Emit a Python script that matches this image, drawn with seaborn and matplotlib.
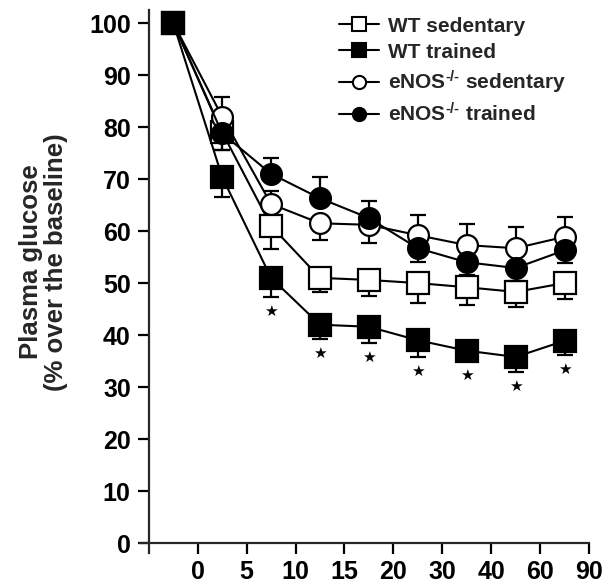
import numpy as np
import pandas as pd
import matplotlib
matplotlib.use("Agg")
import matplotlib.pyplot as plt
from matplotlib.lines import Line2D
import seaborn as sns

sns.set_theme(style="ticks")
plt.rcParams["font.family"] = ["Liberation Sans", "DejaVu Sans"]
plt.rcParams["font.weight"] = "bold"
plt.rcParams["mathtext.fontset"] = "custom"
plt.rcParams["mathtext.rm"] = "Liberation Sans:bold"
plt.rcParams["mathtext.default"] = "rm"

# Time axis labels (minutes) – sampling intervals sit between these boundaries
tick_labels = ["0", "5", "10", "15", "20", "30", "40", "60", "90"]
n_points = 9

ko = r"eNOS$^{\text{-/-}}$"
series_names = ["WT sedentary", ko + " sedentary", ko + " trained", "WT trained"]

wt_sed_mean = [100, 79.0, 61.0, 51.0, 50.6, 50.0, 49.2, 48.3, 50.0]
wt_sed_sem = [0, 3.4, 4.5, 2.7, 3.1, 3.8, 3.4, 2.9, 3.1]
wt_sed_side = ["down"] * 9

enos_sed_mean = [100, 82.0, 65.2, 61.5, 61.2, 59.2, 57.3, 56.7, 58.9]
enos_sed_sem = [0, 3.8, 2.5, 3.2, 3.5, 3.8, 4.0, 4.0, 3.8]
enos_sed_side = ["up", "up", "up", "down", "down", "up", "up", "up", "up"]

enos_tr_mean = [100, 78.8, 71.0, 66.3, 62.5, 56.7, 54.0, 52.9, 56.3]
enos_tr_sem = [0, 3.2, 3.0, 4.1, 3.3, 2.7, 2.5, 2.5, 2.5]
enos_tr_side = ["down", "down", "up", "up", "up", "down", "down", "down", "down"]

wt_tr_mean = [100, 70.4, 51.0, 42.0, 41.6, 39.0, 37.0, 35.8, 38.9]
wt_tr_sem = [0, 3.9, 3.7, 2.8, 3.2, 3.2, 2.0, 2.9, 2.7]
wt_tr_side = ["down"] * 9

# significance vs. WT sedentary for the trained WT group
wt_tr_significant = [False, False, True, True, True, True, True, True, True]

series = [
    (series_names[0], wt_sed_mean, wt_sed_sem, wt_sed_side, "s", "white", 15.5),
    (series_names[1], enos_sed_mean, enos_sed_sem, enos_sed_side, "o", "white", 15),
    (series_names[2], enos_tr_mean, enos_tr_sem, enos_tr_side, "o", "black", 15),
    (series_names[3], wt_tr_mean, wt_tr_sem, wt_tr_side, "s", "black", 15.5),
]

fig = plt.figure(figsize=(6.06, 5.86), dpi=100)
ax = fig.add_axes([0.231, 0.0563, 0.741, 0.9266])

pos = np.arange(n_points)
for k, (name, mean, sem, side, mk, fc, ms) in enumerate(series):
    mean = np.asarray(mean, float)
    sem = np.asarray(sem, float)
    up = np.array([s if d == "up" else 0 for s, d in zip(sem, side)])
    dn = np.array([s if d == "down" else 0 for s, d in zip(sem, side)])
    ax.errorbar(pos, mean, yerr=[dn, up], fmt="none", ecolor="black",
                elinewidth=1.6, capsize=5.5, capthick=1.6, zorder=2 + 2 * k)
    df = pd.DataFrame({"pos": pos, "value": mean})
    sns.lineplot(data=df, x="pos", y="value", ax=ax, color="black",
                 linewidth=1.5, marker=mk, markersize=ms,
                 markerfacecolor=fc, markeredgecolor="black",
                 markeredgewidth=1.6, zorder=3 + 2 * k)

# significance stars under the WT trained error bars
for p, m, s, sig in zip(pos, wt_tr_mean, wt_tr_sem, wt_tr_significant):
    if sig:
        ax.annotate("\u2605", xy=(p, m - s), xytext=(0, -5), textcoords="offset points",
                    ha="center", va="top", fontsize=11, color="black",
                    family="DejaVu Sans")

ax.set_xlim(-0.68, 8.5)
ax.set_ylim(-1.9, 102.5)
ax.spines["left"].set_position(("data", -0.5))
ax.spines["bottom"].set_position(("data", 0))
for sp in ["top", "right"]:
    ax.spines[sp].set_visible(False)
for sp in ["left", "bottom"]:
    ax.spines[sp].set_linewidth(1.6)

ax.set_xticks(pos + 0.5)
ax.set_xticklabels(tick_labels)
ax.set_yticks(np.arange(0, 101, 10))
ax.tick_params(axis="both", direction="out", length=8, width=1.6,
               labelsize=18, colors="black")
ax.tick_params(axis="x", pad=4)
ax.tick_params(axis="y", pad=5)
for lab in ax.get_xticklabels() + ax.get_yticklabels():
    lab.set_fontweight("bold")

ax.set_xlabel("")
ax.set_ylabel("Plasma glucose\n(% over the baseline)", fontsize=18.5,
              fontweight="bold", linespacing=1.05)
ax.yaxis.set_label_coords(-0.16, 0.536)

legend_order = [
    ("WT sedentary", "s", "white"),
    ("WT trained", "s", "black"),
    (ko + " sedentary", "o", "white"),
    (ko + " trained", "o", "black"),
]
handles = [Line2D([0], [0], color="black", lw=1.5, marker=mk, markersize=9.5,
                  markerfacecolor=fc, markeredgecolor="black", markeredgewidth=1.5)
           for _, mk, fc in legend_order]
leg = ax.legend(handles, [l for l, _, _ in legend_order], loc="upper left",
                bbox_to_anchor=(0.425, 1.003), frameon=False, fontsize=15,
                handlelength=1.9, handletextpad=0.45, labelspacing=0.33,
                borderaxespad=0)
for t in leg.get_texts():
    t.set_fontweight("bold")

fig.savefig("out.png", dpi=100)
